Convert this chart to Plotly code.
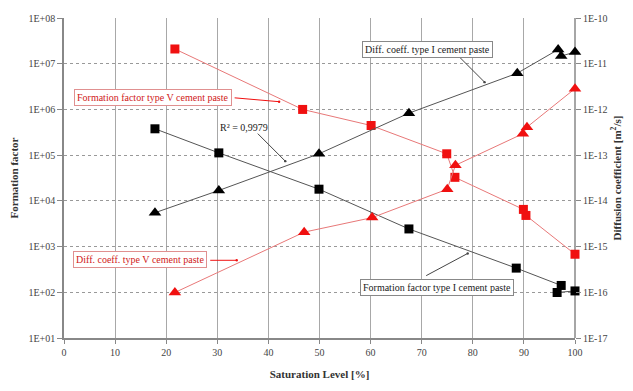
import plotly.graph_objects as go

# Data
ff_v_x = [21.7, 46.7, 60.1, 74.9, 76.5, 89.9, 90.4, 100.0]
ff_v_y = [2.1e7, 1.0e6, 4.45e5, 1.07e5, 3.27e4, 6.5e3, 4.8e3, 6.8e2]

ff_i_x = [17.8, 30.3, 49.9, 67.5, 88.5, 97.3, 96.5, 100.0]
ff_i_y = [3.77e5, 1.12e5, 1.8e4, 2.43e3, 3.38e2, 1.41e2, 0.99e2, 1.07e2]

dc_i_x = [17.8, 30.3, 49.9, 67.5, 88.7, 96.7, 97.3, 100.0]
dc_i_y = [5.5e-15, 1.69e-14, 1.07e-13, 8.3e-13, 6.2e-12, 2.04e-11, 1.47e-11, 1.8e-11]

dc_v_x = [21.7, 47.0, 60.3, 75.0, 76.6, 89.8, 90.6, 100.0]
dc_v_y = [9.9e-17, 2.07e-15, 4.3e-15, 1.8e-14, 6.0e-14, 2.94e-13, 4.1e-13, 2.85e-12]

x_ticks = [0, 10, 20, 30, 40, 50, 60, 70, 80, 90, 100]
left_tickvals = [1e1, 1e2, 1e3, 1e4, 1e5, 1e6, 1e7, 1e8]
left_ticktext = ["1E+01", "1E+02", "1E+03", "1E+04", "1E+05", "1E+06", "1E+07", "1E+08"]
right_tickvals = [1e-17, 1e-16, 1e-15, 1e-14, 1e-13, 1e-12, 1e-11, 1e-10]
right_ticktext = ["1E-17", "1E-16", "1E-15", "1E-14", "1E-13", "1E-12", "1E-11", "1E-10"]

RED = "#f01010"
RED_LINE = "#e87878"
BLACK = "#000000"
BLACK_LINE = "#555555"
FONT = "Liberation Serif"

fig = go.Figure()

fig.add_trace(go.Scatter(x=ff_v_x, y=ff_v_y, mode="lines+markers", yaxis="y", cliponaxis=False,
                         line=dict(color=RED_LINE, width=1),
                         marker=dict(symbol="square", size=9, color=RED)))
fig.add_trace(go.Scatter(x=ff_i_x, y=ff_i_y, mode="lines+markers", yaxis="y", cliponaxis=False,
                         line=dict(color=BLACK_LINE, width=1),
                         marker=dict(symbol="square", size=9, color=BLACK)))
fig.add_trace(go.Scatter(x=dc_i_x, y=dc_i_y, mode="lines+markers", yaxis="y2", cliponaxis=False,
                         line=dict(color=BLACK_LINE, width=1),
                         marker=dict(symbol="triangle-up", size=11, color=BLACK)))
fig.add_trace(go.Scatter(x=dc_v_x, y=dc_v_y, mode="lines+markers", yaxis="y2", cliponaxis=False,
                         line=dict(color=RED_LINE, width=1),
                         marker=dict(symbol="triangle-up", size=11, color=RED)))

annotations = []

def box(text, x, ylog, color, border):
    annotations.append(dict(text=text, x=x, y=ylog, xref="x", yref="y", showarrow=False,
                            font=dict(family=FONT, size=10, color=color),
                            bordercolor=border, borderwidth=1, borderpad=2,
                            bgcolor="white"))

def arrow(x, ylog, ax, ay, color):
    annotations.append(dict(text=" ", x=x, y=ylog, xref="x", yref="y", showarrow=True,
                            ax=ax, ay=ay, arrowhead=6, arrowsize=0.6, arrowwidth=1,
                            arrowcolor=color, font=dict(size=1)))

arrow(82.3, 6.597, -27, -27, "#444444")
box("Diff. coeff. type I cement paste", 71.2, 7.315, "#222222", "#888888")
arrow(42.1, 6.169, -46, -4, RED)
box("Formation factor type V cement paste", 17.4, 6.266, "#d02020", "#e09090")
arrow(43.3, 4.869, -29, -29, "#444444")
annotations.append(dict(text="R² = 0,9979", x=35.2, y=5.612, xref="x", yref="y", showarrow=False,
                        font=dict(family=FONT, size=10, color="#222222")))
arrow(33.8, 2.70, -28, 0, RED)
box("Diff. coeff. type V cement paste", 14.8, 2.722, "#d02020", "#e09090")
arrow(79.0, 2.85, -43, 23, "#444444")
box("Formation factor type I cement paste", 72.9, 2.111, "#222222", "#888888")

fig.update_layout(
    width=633, height=391,
    margin=dict(l=64, r=49, t=14, b=50),
    paper_bgcolor="white", plot_bgcolor="white",
    showlegend=False,
    font=dict(family=FONT, size=10, color="#333333"),
    annotations=annotations,
    shapes=[dict(type="line", xref="paper", yref="paper", x0=1, x1=1, y0=0, y1=1,
                 layer="below", line=dict(color="#888888", width=1.5))],
    xaxis=dict(range=[0, 100], tickvals=x_ticks, showgrid=True, gridcolor="#a8a8a8",
               gridwidth=1, showline=True, linecolor="#888888", linewidth=1.5,
               ticks="outside", ticklen=4, tickcolor="#888888", zeroline=False,
               tickfont=dict(family=FONT, size=10, color="#444444"),
               title=dict(text="<b>Saturation Level [%]</b>", standoff=14,
                          font=dict(family=FONT, size=11, color="#333333"))),
    yaxis=dict(type="log", range=[1, 8], tickvals=left_tickvals, ticktext=left_ticktext,
               showgrid=True, gridcolor="#999999", griddash="dot", gridwidth=1,
               showline=True, linecolor="#888888", linewidth=1.5,
               ticks="outside", ticklen=5, tickcolor="#888888", zeroline=False,
               tickfont=dict(family=FONT, size=10, color="#444444"),
               title=dict(text="<b>Formation factor</b>", standoff=8,
                          font=dict(family=FONT, size=11, color="#333333"))),
    yaxis2=dict(type="log", range=[-17, -10], tickvals=right_tickvals, ticktext=right_ticktext,
                overlaying="y", side="right", showgrid=False,
                showline=False,
                ticks="outside", ticklen=5, tickcolor="#888888", zeroline=False,
                tickfont=dict(family=FONT, size=10, color="#444444"),
                title=dict(text="<b>Diffusion coefficient [m<sup>2</sup>/s]</b>", standoff=6,
                           font=dict(family=FONT, size=11, color="#333333"))),
)

fig.write_html("out.html")
